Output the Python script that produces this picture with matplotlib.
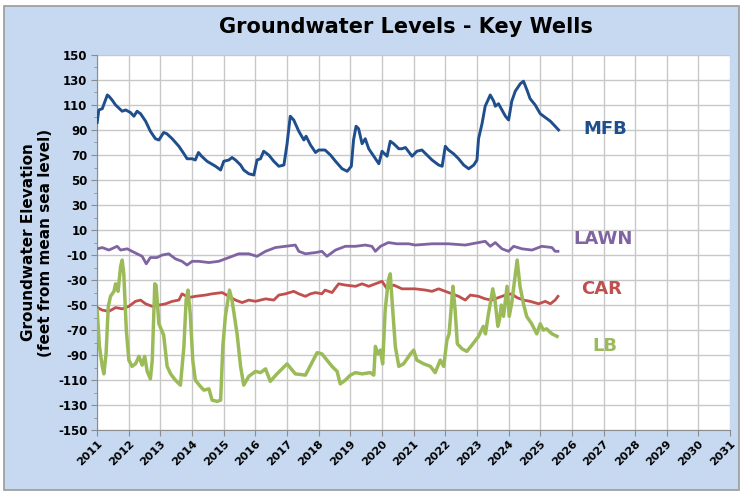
import matplotlib.pyplot as plt
from matplotlib.patches import Rectangle

# MFB well (decimal year, feet)
mfb_year = [2011.0, 2011.05, 2011.16, 2011.32, 2011.37, 2011.47, 2011.58, 2011.79, 2011.9, 2012.05,
            2012.16, 2012.26, 2012.37, 2012.53, 2012.68, 2012.84, 2012.95, 2013.1, 2013.2, 2013.37,
            2013.58, 2013.74, 2013.84, 2014.0, 2014.1, 2014.2, 2014.3, 2014.47, 2014.74, 2014.9,
            2015.0, 2015.16, 2015.26, 2015.37, 2015.53, 2015.63, 2015.79, 2015.95, 2016.05, 2016.16,
            2016.26, 2016.42, 2016.58, 2016.74, 2016.9, 2017.0, 2017.1, 2017.21, 2017.37, 2017.53,
            2017.6, 2017.74, 2017.9, 2018.0, 2018.2, 2018.37, 2018.53, 2018.74, 2018.9, 2019.03,
            2019.1, 2019.18, 2019.26, 2019.37, 2019.47, 2019.58, 2019.74, 2019.9, 2020.0, 2020.16,
            2020.26, 2020.37, 2020.53, 2020.63, 2020.74, 2020.95, 2021.1, 2021.26, 2021.42, 2021.58,
            2021.79, 2021.9, 2022.0, 2022.1, 2022.26, 2022.42, 2022.58, 2022.74, 2022.9, 2023.0,
            2023.05, 2023.16, 2023.26, 2023.42, 2023.53, 2023.58, 2023.68, 2023.79, 2023.9, 2024.0,
            2024.1, 2024.21, 2024.37, 2024.47, 2024.58, 2024.68, 2024.84, 2025.0, 2025.16, 2025.32,
            2025.47, 2025.58]
mfb_level = [96, 106, 107, 118, 117, 114, 110, 105, 106, 104,
             101, 105, 103, 97, 89, 83, 82, 88, 87, 83,
             77, 71, 67, 67, 66, 72, 69, 65, 61, 58,
             65, 66, 68, 66, 62, 58, 55, 54, 66, 67,
             73, 70, 65, 61, 62, 79, 101, 98, 89, 82,
             85, 78, 72, 74, 74, 70, 65, 59, 57, 61,
             82, 93, 91, 79, 83, 75, 69, 63, 73, 69,
             81, 79, 75, 75, 76, 69, 73, 74, 70, 66,
             62, 61, 77, 74, 71, 67, 62, 59, 62, 66,
             83, 95, 109, 118, 113, 109, 111, 106, 101, 98,
             113, 121, 127, 129, 122, 115, 110, 103, 100, 97,
             93, 90]

# LAWN well
lawn_year = [2011.0, 2011.16, 2011.37, 2011.63, 2011.74, 2011.95, 2012.1, 2012.26, 2012.42, 2012.55,
             2012.68, 2012.89, 2013.05, 2013.26, 2013.47, 2013.68, 2013.84, 2014.0, 2014.21, 2014.53,
             2014.84, 2015.16, 2015.47, 2015.79, 2016.05, 2016.32, 2016.63, 2016.95, 2017.26, 2017.37,
             2017.58, 2017.9, 2018.1, 2018.26, 2018.53, 2018.84, 2019.16, 2019.47, 2019.68, 2019.79,
             2019.95, 2020.2, 2020.47, 2020.84, 2021.05, 2021.58, 2022.1, 2022.63, 2023.26, 2023.42,
             2023.58, 2023.79, 2024.0, 2024.16, 2024.42, 2024.74, 2025.05, 2025.37, 2025.47, 2025.56]
lawn_level = [-5, -4, -6, -3, -6, -5, -7, -9, -11, -17,
              -12, -12, -10, -9, -13, -15, -18, -15, -15, -16,
              -15, -12, -9, -9, -11, -7, -4, -3, -2, -7,
              -9, -8, -7, -11, -6, -3, -3, -2, -3, -7,
              -3, 0, -1, -1, -2, -1, -1, -2, 1, -3,
              0, -5, -7, -3, -5, -6, -3, -4, -7, -7]

# CAR well
car_year = [2011.0, 2011.16, 2011.37, 2011.58, 2011.79, 2012.0, 2012.21, 2012.37, 2012.53, 2012.74,
            2012.95, 2013.16, 2013.37, 2013.58, 2013.68, 2013.89, 2014.1, 2014.42, 2014.63, 2014.95,
            2015.16, 2015.37, 2015.58, 2015.79, 2016.0, 2016.32, 2016.58, 2016.74, 2016.95, 2017.21,
            2017.37, 2017.58, 2017.74, 2017.9, 2018.1, 2018.2, 2018.42, 2018.63, 2018.84, 2019.16,
            2019.37, 2019.58, 2019.79, 2020.0, 2020.16, 2020.37, 2020.63, 2020.84, 2021.05, 2021.37,
            2021.58, 2021.79, 2022.0, 2022.21, 2022.42, 2022.63, 2022.79, 2023.05, 2023.26, 2023.47,
            2023.68, 2023.9, 2024.1, 2024.26, 2024.47, 2024.68, 2024.95, 2025.16, 2025.32, 2025.47,
            2025.56]
car_level = [-52, -54, -55, -52, -53, -51, -47, -46, -49, -51,
             -50, -49, -47, -46, -41, -44, -43, -42, -41, -40,
             -43, -46, -48, -46, -47, -45, -46, -42, -41, -39,
             -41, -43, -41, -40, -41, -38, -40, -33, -34, -35,
             -33, -35, -33, -31, -37, -34, -37, -37, -37, -38,
             -39, -37, -39, -41, -43, -46, -42, -43, -45, -46,
             -44, -42, -41, -44, -46, -47, -49, -47, -49, -46,
             -43]

# LB well
lb_year = [2011.0, 2011.07, 2011.16, 2011.21, 2011.28, 2011.35, 2011.42, 2011.53, 2011.58, 2011.66,
           2011.74, 2011.79, 2011.84, 2011.92, 2012.0, 2012.1, 2012.21, 2012.32, 2012.42, 2012.5,
           2012.58, 2012.68, 2012.74, 2012.82, 2012.86, 2012.95, 2013.1, 2013.21, 2013.32, 2013.47,
           2013.63, 2013.74, 2013.81, 2013.87, 2013.94, 2014.02, 2014.1, 2014.26, 2014.37, 2014.53,
           2014.63, 2014.79, 2014.9, 2014.97, 2015.05, 2015.18, 2015.26, 2015.42, 2015.53, 2015.63,
           2015.79, 2016.0, 2016.16, 2016.32, 2016.47, 2016.68, 2017.0, 2017.26, 2017.58, 2017.95,
           2018.1, 2018.26, 2018.42, 2018.58, 2018.68, 2018.84, 2019.0, 2019.16, 2019.37, 2019.63,
           2019.74, 2019.79, 2019.87, 2019.95, 2020.02, 2020.1, 2020.2, 2020.26, 2020.33, 2020.42,
           2020.53, 2020.68, 2020.9, 2021.0, 2021.1, 2021.32, 2021.53, 2021.68, 2021.76, 2021.84,
           2021.95, 2022.05, 2022.12, 2022.19, 2022.24, 2022.31, 2022.38, 2022.53, 2022.68, 2022.84,
           2023.05, 2023.2, 2023.27, 2023.35, 2023.5, 2023.57, 2023.66, 2023.71, 2023.77, 2023.84,
           2023.95, 2024.02, 2024.1, 2024.27, 2024.36, 2024.47, 2024.57, 2024.73, 2024.89, 2025.0,
           2025.1, 2025.2, 2025.37, 2025.53]
lb_level = [-54, -83, -99, -105, -89, -51, -43, -39, -33, -39,
            -19, -14, -25, -70, -94, -99, -97, -91, -98, -91,
            -103, -109, -94, -33, -34, -65, -74, -99, -105, -110,
            -114, -83, -46, -38, -57, -94, -110, -115, -118, -117,
            -126, -127, -126, -83, -59, -38, -46, -73, -99, -114,
            -107, -103, -104, -101, -111, -105, -97, -105, -106, -88,
            -89, -94, -99, -103, -113, -110, -106, -104, -105, -104,
            -106, -83, -89, -86, -97, -54, -30, -25, -51, -83,
            -99, -97, -89, -86, -94, -97, -99, -104, -99, -94,
            -99, -78, -73, -51, -35, -54, -81, -85, -87, -82,
            -75, -67, -73, -59, -37, -46, -67, -62, -50, -59,
            -35, -59, -48, -14, -35, -49, -59, -65, -73, -65,
            -70, -69, -73, -75]

well_names = ['MFB', 'LAWN', 'CAR', 'LB']
well_colors = ['#1f4e8c', '#8064a2', '#c0504d', '#9bbb59']
label_pos = [(2026.35, 91), (2026.05, 3), (2026.3, -37), (2026.65, -83)]

year_ticks = list(range(2011, 2032))
level_ticks = list(range(-150, 151, 20))

fig = plt.figure(figsize=(7.42, 4.95), dpi=100)
fig.patch.set_facecolor('white')
fig.patches.append(Rectangle((0.006, 0.01), 0.99, 0.978, transform=fig.transFigure,
                             facecolor='#c6d9f0', edgecolor='#9a9a9a', linewidth=1.2, zorder=-10))

ax = fig.add_axes([0.131, 0.131, 0.853, 0.758])
ax.set_facecolor('white')

series = [(mfb_year, mfb_level), (lawn_year, lawn_level), (car_year, car_level), (lb_year, lb_level)]
widths = [2.1, 2.0, 2.0, 2.5]
for (yr, lv), name, col, lw in zip(series, well_names, well_colors, widths):
    ax.plot(yr, lv, color=col, linewidth=lw, solid_joinstyle='round', zorder=3)

for name, col, (lx, ly) in zip(well_names, well_colors, label_pos):
    ax.text(lx, ly, name, color=col, fontsize=13, fontweight='bold', va='center', ha='left')

ax.set_xlim(2011, 2031)
ax.set_ylim(-150, 150)
ax.set_xticks(year_ticks)
ax.set_xticklabels([str(y) for y in year_ticks], rotation=45, ha='right', rotation_mode='anchor',
                   fontsize=8, fontweight='bold')
ax.set_yticks(level_ticks)
ax.set_yticklabels([str(v) for v in level_ticks], fontsize=8.5, fontweight='bold')
ax.set_yticks(list(range(-140, 150, 20)), minor=True)
ax.tick_params(axis='y', which='major', length=4, color='#8c8c8c', pad=3)
ax.tick_params(axis='y', which='minor', length=2, color='#8c8c8c')
ax.tick_params(axis='x', length=4, color='#8c8c8c', pad=2)
ax.grid(True, which='major', color='#c8c8c8', linewidth=1.0)
ax.set_axisbelow(True)
for side in ['top', 'right']:
    ax.spines[side].set_visible(False)
for side in ['left', 'bottom']:
    ax.spines[side].set_color('#8c8c8c')

ax.set_ylabel('Groundwater Elevation\n(feet from mean sea level)', fontsize=11, fontweight='bold',
              labelpad=4, linespacing=1.1)
fig.text(0.547, 0.945, 'Groundwater Levels - Key Wells', ha='center', va='center',
         fontsize=15, fontweight='bold')

fig.savefig('out.png', dpi=100)
